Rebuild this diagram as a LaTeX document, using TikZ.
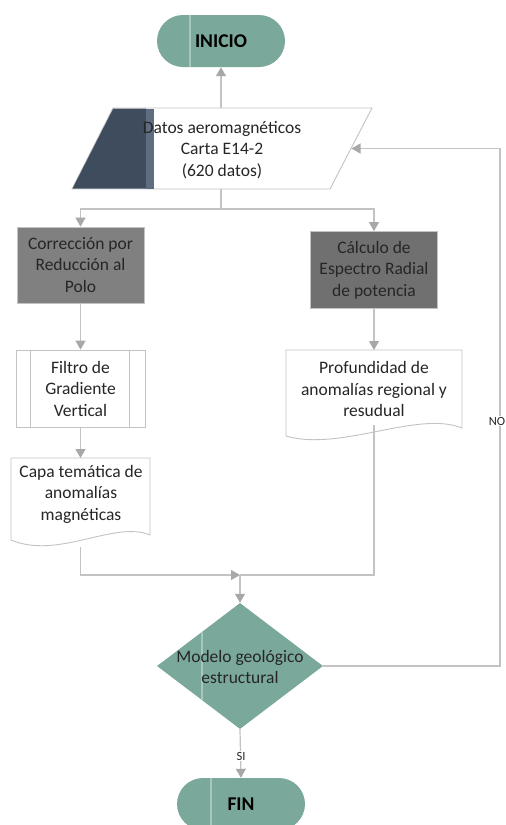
\documentclass[tikz,border=0pt]{standalone}
\usepackage{fontspec}
\setmainfont{Carlito}
\usetikzlibrary{arrows.meta,shapes.geometric}
\definecolor{teal1}{HTML}{7AA89A}
\definecolor{teal2}{HTML}{A6C7BD}
\definecolor{lin}{HTML}{C3C3C3}
\definecolor{arr}{HTML}{A8A8A8}
\definecolor{navy}{HTML}{3F4C5E}
\definecolor{navy2}{HTML}{5E6D80}
\definecolor{grayA}{HTML}{808080}
\definecolor{grayB}{HTML}{707070}
\definecolor{txt}{HTML}{262626}
\begin{document}
\begin{tikzpicture}[x=1pt,y=-1pt,
  conn/.style={draw=lin, line width=1.2pt},
  arrow/.style={conn, -{Triangle[width=10pt,length=9pt,fill=arr,color=arr]}},
  lbl/.style={font=\fontsize{17.5}{21.5}\selectfont, text=txt, align=center, inner sep=0pt},
  small/.style={font=\fontsize{12.5}{14}\selectfont, text=txt, fill=white, inner sep=1pt},
  term/.style={fill=teal1, rounded corners=26pt, minimum width=128pt, minimum height=52pt,
    font=\fontsize{19.5}{22}\selectfont\bfseries, text=black, inner sep=0pt},
  graybox/.style={draw=lin, line width=0.8pt, minimum width=127pt, minimum height=76pt,
    font=\fontsize{17.5}{21.5}\selectfont, text=txt, align=center, inner sep=0pt},
  stripe/.style={draw=teal2, line width=2.5pt},
  outline/.style={draw=lin, line width=0.9pt, fill=white}
]
\useasboundingbox (0,0) rectangle (506,825);

% INICIO
\node[term] (ini) at (221,41) {INICIO};
\draw[stripe] ([xshift=33pt]ini.north west) -- ([xshift=33pt]ini.south west);

% Datos parallelogram
\draw[outline] (72,189) -- (113,108) -- (372,108) -- (330,189) -- cycle;
\fill[navy] (72.5,188.5) -- (113.3,108.5) -- (146,108.5) -- (146,188.5) -- cycle;
\fill[navy2] (146,108.5) rectangle (154,188.5);
\node[lbl] (datos) at (222,150) {Datos aeromagnéticos\\Carta E14-2\\(620 datos)};
\coordinate (datosT) at (221,108);
\coordinate (datosB) at (221,189);
\coordinate (datosR) at (351.5,148.5);

% boxes
\node[graybox, fill=grayA] (corr) at (80.5,265) {Corrección por\\Reducción al\\Polo};
\node[graybox, fill=grayB, minimum height=77pt] (calc) at (374,270) {Cálculo de\\Espectro Radial\\de potencia};

% Filtro (predefined process)
\node[graybox, fill=white, minimum width=129pt, minimum height=77pt] (filtro) at (80.5,388.5) {Filtro de\\Gradiente\\Vertical};
\draw[draw=lin, line width=0.8pt] ([xshift=15pt]filtro.north west) -- ([xshift=15pt]filtro.south west);
\draw[draw=lin, line width=0.8pt] ([xshift=-16pt]filtro.north east) -- ([xshift=-16pt]filtro.south east);

% Capa document
\draw[outline] (11,458) -- (150,458) -- (150,535) .. controls (114,520) and (59,560) .. (11,540) -- cycle;
\node[lbl] (capa) at (81,494) {Capa temática de\\anomalías\\magnéticas};
\coordinate (capaT) at (80.5,458);
\coordinate (capaB) at (80.5,547);

% Profundidad document
\draw[outline] (286,350) -- (462,350) -- (462,428) .. controls (418,410) and (340,452) .. (286,436) -- cycle;
\node[lbl] (prof) at (374,389) {Profundidad de\\anomalías regional y\\resudual};
\coordinate (profT) at (374,350);
\coordinate (profB) at (374,425);

% Diamond
\node[diamond, fill=teal1, minimum width=166pt, minimum height=126pt, inner sep=0pt] (model) at (240,666) {};
\draw[draw=teal2, line width=2pt] ([shift={(45,-34.2)}]model.west) -- ([shift={(45,34.2)}]model.west);
\node[lbl] (modeltxt) at (240,667) {Modelo geológico\\estructural};

% FIN
\node[term] (fin) at (241,804) {FIN};
\draw[stripe] ([xshift=34pt]fin.north west) -- ([xshift=34pt]fin.south west);

% connectors
\coordinate (split) at (221,209);
\coordinate (merge) at (240,575);
\coordinate (fbR) at (500,666);
\coordinate (fbT) at (500,148.5);

\draw[arrow] (datosT) -- (ini.south);
\draw[conn] (datosB) -- (split);
\draw[arrow] (split) -| (corr.north);
\draw[arrow] (split) -| (calc.north);
\draw[arrow] (corr.south) -- (filtro.north);
\draw[arrow] (filtro.south) -- (capaT);
\draw[arrow] (calc.south) -- (profT);
\draw[conn] (profB) |- (merge);
\draw[arrow] (capaB) |- (merge);
\draw[arrow] (merge) -- (model.north);
\draw[arrow] (model.east) -- (fbR) -- (fbT) -- (datosR);
\node[small] (nolbl) at (497,421) {NO};
\draw[arrow] (model.south) -- (fin.north);
\node[small] (silbl) at (241,756) {SI};
\end{tikzpicture}
\end{document}
